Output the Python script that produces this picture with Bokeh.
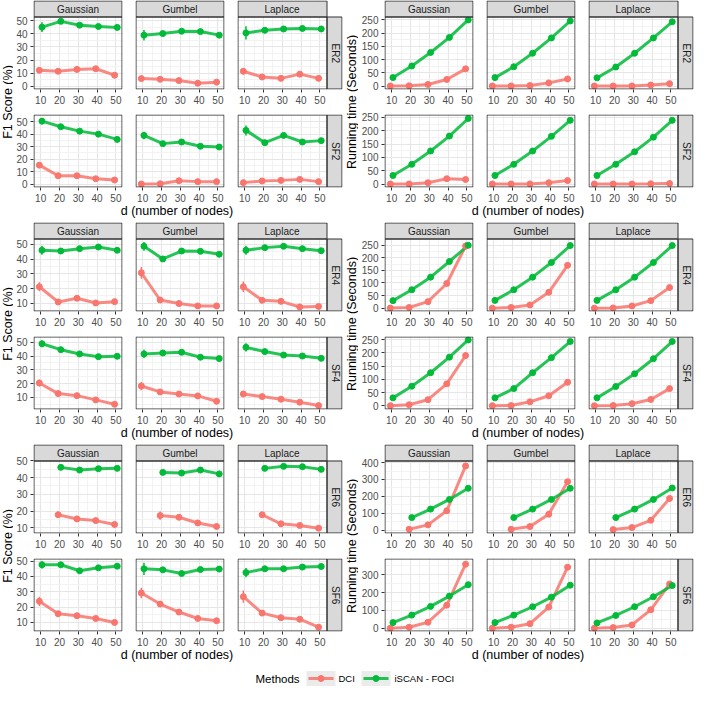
import math
import numpy as np
from bokeh.plotting import figure
from bokeh.layouts import row, column
from bokeh.models import FixedTicker, Range1d, ColumnDataSource, Grid
from bokeh.core.properties import value
from bokeh.embed import file_html
from bokeh.resources import INLINE

# ---------------- data ----------------
D = [10, 20, 30, 40, 50]
NOISES = ["Gaussian", "Gumbel", "Laplace"]
METHODS = ["DCI", "iSCAN - FOCI"]
METHOD_KEYS = ["dci", "iscan"]
COLORS = ["#F8766D", "#00BA38"]

# F1 score (%)
f1_er2_gaussian_dci = [12.2, 11.5, 12.9, 13.4, 8.5]
f1_er2_gaussian_dci_se = [1.5, 1.0, 1.0, 1.2, 1.2]
f1_er2_gaussian_iscan = [45.1, 49.5, 46.6, 45.6, 44.9]
f1_er2_gaussian_iscan_se = [3.7, 1.2, 1.2, 1.0, 1.0]
f1_er2_gumbel_dci = [5.9, 5.4, 4.4, 2.4, 3.2]
f1_er2_gumbel_dci_se = [0.8, 0.8, 0.8, 0.8, 0.8]
f1_er2_gumbel_iscan = [39.0, 40.2, 42.0, 41.7, 39.0]
f1_er2_gumbel_iscan_se = [4.0, 1.5, 1.0, 1.0, 1.0]
f1_er2_laplace_dci = [11.5, 7.1, 6.1, 9.3, 6.1]
f1_er2_laplace_dci_se = [2.5, 1.0, 1.0, 1.0, 1.0]
f1_er2_laplace_iscan = [40.7, 42.7, 43.7, 44.1, 43.7]
f1_er2_laplace_iscan_se = [5.0, 1.5, 1.2, 1.0, 1.0]

f1_sf2_gaussian_dci = [15.1, 6.6, 6.6, 4.2, 3.2]
f1_sf2_gaussian_dci_se = [2.0, 0.8, 0.8, 0.8, 0.8]
f1_sf2_gaussian_iscan = [50.3, 45.8, 42.3, 39.9, 35.7]
f1_sf2_gaussian_iscan_se = [2.5, 1.0, 1.0, 1.0, 1.0]
f1_sf2_gumbel_dci = [0.0, 0.2, 2.6, 1.9, 1.9]
f1_sf2_gumbel_dci_se = [0.5, 0.5, 0.8, 0.8, 0.8]
f1_sf2_gumbel_iscan = [38.9, 32.3, 33.6, 30.2, 29.6]
f1_sf2_gumbel_iscan_se = [3.0, 1.5, 1.0, 1.0, 1.0]
f1_sf2_laplace_dci = [1.1, 2.4, 2.9, 3.7, 1.9]
f1_sf2_laplace_dci_se = [0.8, 0.8, 0.8, 0.8, 0.8]
f1_sf2_laplace_iscan = [42.9, 33.1, 38.9, 33.6, 34.7]
f1_sf2_laplace_iscan_se = [4.0, 1.5, 1.0, 1.0, 1.0]

f1_er4_gaussian_dci = [21.2, 10.9, 13.4, 10.2, 11.1]
f1_er4_gaussian_dci_se = [3.0, 1.0, 1.0, 1.0, 1.0]
f1_er4_gaussian_iscan = [46.0, 45.5, 47.1, 48.2, 46.0]
f1_er4_gaussian_iscan_se = [3.0, 1.0, 1.0, 1.0, 1.0]
f1_er4_gumbel_dci = [30.7, 12.2, 9.8, 8.2, 8.2]
f1_er4_gumbel_dci_se = [4.0, 1.0, 1.0, 1.0, 1.0]
f1_er4_gumbel_iscan = [48.7, 40.1, 45.5, 45.3, 43.3]
f1_er4_gumbel_iscan_se = [3.0, 1.0, 1.0, 1.0, 1.0]
f1_er4_laplace_dci = [21.2, 12.0, 11.3, 7.5, 7.8]
f1_er4_laplace_dci_se = [3.5, 1.0, 1.0, 1.0, 1.0]
f1_er4_laplace_iscan = [46.0, 47.8, 48.7, 47.1, 45.7]
f1_er4_laplace_iscan_se = [3.0, 1.0, 1.0, 1.0, 1.0]

f1_sf4_gaussian_dci = [20.4, 12.7, 11.2, 8.1, 4.9]
f1_sf4_gaussian_dci_se = [2.5, 1.0, 1.0, 1.0, 1.0]
f1_sf4_gaussian_iscan = [49.0, 44.7, 41.6, 39.6, 39.9]
f1_sf4_gaussian_iscan_se = [2.5, 1.0, 1.0, 1.0, 1.0]
f1_sf4_gumbel_dci = [18.2, 13.9, 12.4, 11.0, 7.1]
f1_sf4_gumbel_dci_se = [3.0, 1.5, 1.0, 1.0, 1.0]
f1_sf4_gumbel_iscan = [41.6, 42.3, 42.8, 39.2, 38.2]
f1_sf4_gumbel_iscan_se = [3.0, 1.0, 1.0, 1.0, 1.0]
f1_sf4_laplace_dci = [12.4, 10.5, 8.6, 6.4, 4.0]
f1_sf4_laplace_dci_se = [2.0, 1.0, 1.0, 1.0, 1.0]
f1_sf4_laplace_iscan = [46.4, 43.3, 40.8, 40.1, 38.4]
f1_sf4_laplace_iscan_se = [3.0, 1.0, 1.0, 1.0, 1.0]

f1_er6_gaussian_dci = [None, 17.8, 15.3, 14.3, 12.0]
f1_er6_gaussian_dci_se = [0.0, 2.0, 1.0, 1.0, 1.0]
f1_er6_gaussian_iscan = [None, 46.1, 44.5, 45.3, 45.5]
f1_er6_gaussian_iscan_se = [0.0, 1.0, 1.0, 1.0, 1.0]
f1_er6_gumbel_dci = [None, 17.3, 16.3, 12.9, 10.8]
f1_er6_gumbel_dci_se = [0.0, 2.5, 1.0, 1.0, 1.0]
f1_er6_gumbel_iscan = [None, 43.1, 42.7, 44.5, 42.2]
f1_er6_gumbel_iscan_se = [0.0, 1.0, 1.0, 1.0, 1.0]
f1_er6_laplace_dci = [None, 17.8, 12.4, 11.4, 9.8]
f1_er6_laplace_dci_se = [0.0, 1.5, 1.0, 1.0, 1.0]
f1_er6_laplace_iscan = [None, 45.5, 46.7, 46.5, 44.9]
f1_er6_laplace_iscan_se = [0.0, 1.0, 1.0, 1.0, 1.0]

f1_sf6_gaussian_dci = [23.8, 15.7, 14.4, 12.6, 10.0]
f1_sf6_gaussian_dci_se = [3.0, 1.0, 1.0, 1.0, 1.0]
f1_sf6_gaussian_iscan = [47.6, 47.6, 43.7, 45.6, 46.7]
f1_sf6_gaussian_iscan_se = [2.5, 1.0, 1.0, 1.0, 1.0]
f1_sf6_gumbel_dci = [29.2, 22.0, 16.8, 12.6, 11.1]
f1_sf6_gumbel_dci_se = [3.5, 1.0, 1.0, 1.0, 1.0]
f1_sf6_gumbel_iscan = [45.0, 44.3, 41.9, 44.5, 44.8]
f1_sf6_gumbel_iscan_se = [4.0, 1.0, 1.0, 1.0, 1.0]
f1_sf6_laplace_dci = [26.8, 16.1, 13.1, 12.1, 6.9]
f1_sf6_laplace_dci_se = [4.0, 1.0, 1.0, 1.0, 1.0]
f1_sf6_laplace_iscan = [42.5, 45.0, 45.0, 46.1, 46.5]
f1_sf6_laplace_iscan_se = [3.0, 1.0, 1.0, 1.0, 1.0]

# Running time (seconds)
rt_er2_gaussian_dci = [0.5, 1, 6, 25, 65]
rt_er2_gaussian_dci_se = [0, 0, 1, 3, 8]
rt_er2_gaussian_iscan = [32, 76, 127, 184, 250]
rt_er2_gaussian_iscan_se = [1, 2, 2, 2, 3]
rt_er2_gumbel_dci = [0.3, 0.5, 2, 12, 27]
rt_er2_gumbel_dci_se = [0, 0, 0.5, 2, 3]
rt_er2_gumbel_iscan = [32, 73, 124, 182, 246]
rt_er2_gumbel_iscan_se = [1, 2, 2, 2, 3]
rt_er2_laplace_dci = [0.2, 0.3, 0.5, 4, 9]
rt_er2_laplace_dci_se = [0, 0, 0.5, 1, 2]
rt_er2_laplace_iscan = [31, 72, 124, 182, 243]
rt_er2_laplace_iscan_se = [1, 2, 2, 2, 3]

rt_sf2_gaussian_dci = [0.3, 0.5, 5, 20, 17]
rt_sf2_gaussian_dci_se = [0, 0, 1, 3, 2]
rt_sf2_gaussian_iscan = [32, 74, 124, 180, 246]
rt_sf2_gaussian_iscan_se = [1, 2, 2, 2, 3]
rt_sf2_gumbel_dci = [0.2, 0.3, 0.5, 5, 13]
rt_sf2_gumbel_dci_se = [0, 0, 0.5, 1, 2]
rt_sf2_gumbel_iscan = [32, 74, 124, 179, 239]
rt_sf2_gumbel_iscan_se = [1, 2, 2, 2, 3]
rt_sf2_laplace_dci = [0.1, 0.2, 0.3, 1, 2]
rt_sf2_laplace_dci_se = [0, 0, 0, 0.5, 0.5]
rt_sf2_laplace_iscan = [32, 74, 121, 176, 239]
rt_sf2_laplace_iscan_se = [1, 2, 2, 2, 3]

rt_er4_gaussian_dci = [0.5, 3, 26, 98, 246]
rt_er4_gaussian_dci_se = [0, 0.5, 2, 5, 15]
rt_er4_gaussian_iscan = [30, 73, 123, 185, 249]
rt_er4_gaussian_iscan_se = [1, 2, 2, 2, 3]
rt_er4_gumbel_dci = [0.3, 3, 13, 63, 170]
rt_er4_gumbel_dci_se = [0, 0.5, 2, 4, 8]
rt_er4_gumbel_iscan = [31, 73, 123, 181, 248]
rt_er4_gumbel_iscan_se = [1, 2, 2, 2, 3]
rt_er4_laplace_dci = [0.2, 1, 9, 30, 82]
rt_er4_laplace_dci_se = [0, 0.5, 1, 2, 4]
rt_er4_laplace_iscan = [31, 73, 123, 181, 248]
rt_er4_laplace_iscan_se = [1, 2, 2, 2, 3]

rt_sf4_gaussian_dci = [0.5, 4, 23, 83, 190]
rt_sf4_gaussian_dci_se = [0, 0.5, 2, 4, 12]
rt_sf4_gaussian_iscan = [30, 74, 125, 184, 249]
rt_sf4_gaussian_iscan_se = [1, 2, 2, 2, 3]
rt_sf4_gumbel_dci = [0.3, 1, 15, 38, 89]
rt_sf4_gumbel_dci_se = [0, 0.5, 1, 2, 4]
rt_sf4_gumbel_iscan = [30, 65, 125, 182, 243]
rt_sf4_gumbel_iscan_se = [1, 2, 2, 2, 3]
rt_sf4_laplace_dci = [0.2, 1, 8, 24, 65]
rt_sf4_laplace_dci_se = [0, 0.5, 1, 2, 3]
rt_sf4_laplace_iscan = [30, 73, 121, 178, 243]
rt_sf4_laplace_iscan_se = [1, 2, 2, 2, 3]

rt_er6_gaussian_dci = [None, 6, 32, 115, 380]
rt_er6_gaussian_dci_se = [0, 1, 3, 6, 10]
rt_er6_gaussian_iscan = [None, 75, 125, 182, 248]
rt_er6_gaussian_iscan_se = [0, 2, 2, 2, 3]
rt_er6_gumbel_dci = [None, 6, 22, 95, 287]
rt_er6_gumbel_dci_se = [0, 1, 2, 5, 8]
rt_er6_gumbel_iscan = [None, 75, 125, 182, 248]
rt_er6_gumbel_iscan_se = [0, 2, 2, 2, 3]
rt_er6_laplace_dci = [None, 4, 16, 59, 188]
rt_er6_laplace_dci_se = [0, 1, 2, 3, 6]
rt_er6_laplace_iscan = [None, 75, 125, 182, 250]
rt_er6_laplace_iscan_se = [0, 2, 2, 2, 3]

rt_sf6_gaussian_dci = [0.5, 6, 34, 130, 360]
rt_sf6_gaussian_dci_se = [0, 1, 3, 6, 10]
rt_sf6_gaussian_iscan = [32, 74, 123, 181, 245]
rt_sf6_gaussian_iscan_se = [1, 2, 2, 2, 3]
rt_sf6_gumbel_dci = [0.3, 6, 26, 119, 343]
rt_sf6_gumbel_dci_se = [0, 1, 2, 5, 8]
rt_sf6_gumbel_iscan = [32, 74, 121, 175, 242]
rt_sf6_gumbel_iscan_se = [1, 2, 2, 2, 3]
rt_sf6_laplace_dci = [0.2, 4, 19, 104, 249]
rt_sf6_laplace_dci_se = [0, 1, 2, 5, 8]
rt_sf6_laplace_iscan = [30, 72, 121, 177, 240]
rt_sf6_laplace_iscan_se = [1, 2, 2, 2, 3]

# axis limits / ticks
Y_RANGES = {
    ("f1", "er2"): (-2.4, 53.2), ("f1", "sf2"): (-2.8, 55.6),
    ("f1", "er4"): (4.4, 54.0), ("f1", "sf4"): (1.1, 54.3),
    ("f1", "er6"): (6.6, 50.2), ("f1", "sf6"): (4.1, 51.7),
    ("rt", "er2"): (-13, 263), ("rt", "sf2"): (-13, 261),
    ("rt", "er4"): (-13, 276), ("rt", "sf4"): (-14, 262),
    ("rt", "er6"): (-19, 412), ("rt", "sf6"): (-18, 392),
}
Y_TICKS = {
    ("f1", "er2"): [0, 10, 20, 30, 40, 50], ("f1", "sf2"): [0, 10, 20, 30, 40, 50],
    ("f1", "er4"): [10, 20, 30, 40, 50], ("f1", "sf4"): [10, 20, 30, 40, 50],
    ("f1", "er6"): [10, 20, 30, 40, 50], ("f1", "sf6"): [10, 20, 30, 40, 50],
    ("rt", "er2"): [0, 50, 100, 150, 200, 250], ("rt", "sf2"): [0, 50, 100, 150, 200, 250],
    ("rt", "er4"): [0, 50, 100, 150, 200, 250], ("rt", "sf4"): [0, 50, 100, 150, 200, 250],
    ("rt", "er6"): [0, 100, 200, 300, 400], ("rt", "sf6"): [0, 100, 200, 300],
}
X_TICKS = [10, 20, 30, 40, 50]
X_LIMITS = (6.2, 53.5)
DODGE = [-0.7, 0.7]
Y_TITLES = {"f1": "F1 Score (%)", "rt": "Running time (Seconds)"}
X_TITLE = "d (number of nodes)"
LEGEND_TITLE = "Methods"
GRAPH_ROWS = [("er2", "sf2"), ("er4", "sf4"), ("er6", "sf6")]

# ---------------- style / geometry ----------------
FONT = "Liberation Sans"
FW, FH, SW = 89, 73, 16
LEFT_FIRST = {"f1": 17, "rt": 23}
YTITLE_W = {"f1": 13, "rt": 14}
ROW1_H = 0 + FH + SW + 19
ROW2_H = 6 + FH + 17
XTITLE_H = 18
BLOCK_H = ROW1_H + ROW2_H + XTITLE_H
STRIP_FILL = "#d9d9d9"
BORDER = "#333333"


def minor_between(ticks):
    step = ticks[1] - ticks[0]
    return [ticks[0] - step / 2] + [t + step / 2 for t in ticks]


def series(metric, graph, noise, mk):
    name = f"{metric}_{graph}_{noise.lower()}_{mk}"
    vals = [np.nan if v is None else float(v) for v in globals()[name]]
    se = [float(s) for s in globals()[name + "_se"]]
    return vals, se


def make_panel(metric, graph, ci, top):
    noise = NOISES[ci]
    rs = ci == 2
    ts = top
    y0, y1 = Y_RANGES[(metric, graph)]
    x0, x1 = X_LIMITS
    xpp = (x1 - x0) / FW
    ypp = (y1 - y0) / FH
    fwt = FW + (SW if rs else 0)
    fht = FH + (SW if ts else 0)
    xe = x0 + fwt * xpp
    ye = y0 + fht * ypp

    def px(v):
        return x0 + v * xpp

    def py(v):
        return ye - v * ypp

    p = figure(frame_width=fwt, frame_height=fht,
               x_range=Range1d(x0, xe), y_range=Range1d(y0, ye),
               output_backend="svg", toolbar_location=None, title=None,
               y_axis_location="left" if ci == 0 else None,
               min_border_left=LEFT_FIRST[metric] if ci == 0 else 7,
               min_border_right=2 if rs else 6,
               min_border_top=0 if top else 6,
               min_border_bottom=19 if top else 17,
               outline_line_color=None, border_fill_color="white",
               background_fill_color="white")

    yt = Y_TICKS[(metric, graph)]
    yticker = FixedTicker(ticks=yt, minor_ticks=minor_between(yt))
    xticker = FixedTicker(ticks=X_TICKS, minor_ticks=minor_between(X_TICKS))

    for ax in p.xaxis:
        ax.ticker = xticker
    for ax in p.yaxis:
        ax.ticker = yticker
    for ax in list(p.xaxis) + list(p.yaxis):
        ax.axis_line_color = None
        ax.major_tick_line_color = BORDER
        ax.major_tick_in = 0
        ax.major_tick_out = 3
        ax.minor_tick_line_color = None
        ax.major_label_standoff = 2
        ax.major_label_text_font = FONT
        ax.major_label_text_font_size = "10px"
        ax.major_label_text_color = "#4d4d4d"

    xg = list(p.xgrid)
    if not xg:
        g = Grid(dimension=0)
        p.add_layout(g, "center")
        xg = [g]
    yg = list(p.ygrid)
    if not yg:
        g = Grid(dimension=1)
        p.add_layout(g, "center")
        yg = [g]
    for g in xg:
        g.ticker = xticker
    for g in yg:
        g.ticker = yticker
    for g in xg + yg:
        g.grid_line_color = "#e6e6e6"
        g.grid_line_width = 1.1
        g.minor_grid_line_color = "#f0f0f0"
        g.minor_grid_line_width = 0.8

    sources = []
    for mi, mk in enumerate(METHOD_KEYS):
        vals, se = series(metric, graph, noise, mk)
        xs = [d + DODGE[mi] for d in D]
        sources.append(ColumnDataSource(dict(
            x=xs, y=vals,
            lo=[v - s for v, s in zip(vals, se)],
            hi=[v + s for v, s in zip(vals, se)])))
    for mi, src in enumerate(sources):
        p.line("x", "y", source=src, line_color=COLORS[mi], line_width=3,
               line_alpha=0.85)
    for mi, src in enumerate(sources):
        p.segment(x0="x", y0="lo", x1="x", y1="hi", source=src,
                  line_color=COLORS[mi], line_width=1.5)
        p.scatter("x", "y", source=src, size=6, fill_color=COLORS[mi],
                  line_color=COLORS[mi])

    # facet strips
    if ts and rs:
        p.quad(left=[px(FW)], right=[xe], bottom=[py(SW)], top=[ye],
               fill_color="white", line_color=None)
    if ts:
        p.quad(left=[px(0.5)], right=[px(FW + (0.5 if rs else -0.5))],
               top=[py(0.5)], bottom=[py(SW + 0.5)],
               fill_color=STRIP_FILL, line_color=BORDER, line_width=1)
        p.text(x=[px(FW / 2)], y=[py(SW / 2 + 0.5)], text=[noise],
               text_font=value(FONT), text_font_size=value("10px"),
               text_color="#1a1a1a", text_align="center",
               text_baseline="middle")
    if rs:
        st = SW + 0.5 if ts else 0.5
        p.quad(left=[px(FW + 0.5)], right=[px(fwt - 0.5)],
               top=[py(st)], bottom=[py(fht - 0.5)],
               fill_color=STRIP_FILL, line_color=BORDER, line_width=1)
        p.text(x=[px(FW + SW / 2 + 0.5)], y=[py((st + fht) / 2)],
               text=[graph.upper()], angle=-math.pi / 2,
               text_font=value(FONT), text_font_size=value("10px"),
               text_color="#1a1a1a", text_align="center",
               text_baseline="middle")
    # panel border
    p.quad(left=[px(0.5)], right=[px(FW + (0.5 if rs else -0.5))],
           top=[py(SW + 0.5 if ts else 0.5)], bottom=[py(fht - 0.5)],
           fill_color=None, line_color=BORDER, line_width=1)
    return p


def blank_fig(w, h):
    p = figure(width=w, height=h, x_range=Range1d(0, w), y_range=Range1d(0, h),
               output_backend="svg", toolbar_location=None, title=None,
               x_axis_type=None, y_axis_type=None, min_border=0,
               outline_line_color=None, border_fill_color="white",
               background_fill_color="white")
    return p


def make_block(metric, graphs):
    rows = []
    widths = []
    for r, g in enumerate(graphs):
        figs = [make_panel(metric, g, c, r == 0) for c in range(3)]
        rows.append(row(*figs, spacing=0))
    w1 = LEFT_FIRST[metric] + FW + 6
    w2 = 7 + FW + 6
    w3 = 7 + FW + SW + 2
    W = w1 + w2 + w3
    xt = blank_fig(W, XTITLE_H)
    cx = (LEFT_FIRST[metric] + (W - 2 - SW)) / 2
    xt.text(x=[cx], y=[XTITLE_H - 6], text=[X_TITLE], text_font=value(FONT),
            text_font_size=value("12.5px"), text_color="black",
            text_align="center", text_baseline="middle")
    yw = YTITLE_W[metric]
    yt = blank_fig(yw, BLOCK_H)
    cy = BLOCK_H - (SW + (ROW1_H + 6 + FH)) / 2
    yt.text(x=[yw / 2 + 0.5], y=[cy], text=[Y_TITLES[metric]], angle=math.pi / 2,
            text_font=value(FONT), text_font_size=value("12.5px"),
            text_color="black", text_align="center", text_baseline="middle")
    return row(yt, column(rows[0], rows[1], xt, spacing=0), spacing=0)


def make_legend(w, h):
    p = blank_fig(w, h)
    cy = h / 2
    p.text(x=[255], y=[cy], text=[LEGEND_TITLE], text_font=value(FONT),
           text_font_size=value("11.5px"), text_color="black",
           text_align="left", text_baseline="middle")
    key_left = [306, 361]
    label_x = [338, 394]
    for mi, m in enumerate(METHODS):
        kl = key_left[mi]
        p.quad(left=[kl], right=[kl + 29], bottom=[cy - 7.5], top=[cy + 7.5],
               fill_color="#ebebeb", line_color=None)
        p.segment(x0=[kl + 2], y0=[cy], x1=[kl + 27], y1=[cy],
                  line_color=COLORS[mi], line_width=3, line_alpha=0.85)
        p.scatter(x=[kl + 14.5], y=[cy], size=6, fill_color=COLORS[mi],
                  line_color=COLORS[mi])
        p.text(x=[label_x[mi]], y=[cy], text=[m], text_font=value(FONT),
               text_font_size=value("9.5px"), text_color="black",
               text_align="left", text_baseline="middle")
    return p


block_rows = []
for graphs in GRAPH_ROWS:
    block_rows.append(row(make_block("f1", graphs), make_block("rt", graphs),
                          spacing=0))

total_w = (YTITLE_W["f1"] + LEFT_FIRST["f1"] + YTITLE_W["rt"] + LEFT_FIRST["rt"]
           + 2 * (FW + 6 + 7 + FW + 6 + 7 + FW + SW + 2))
legend = make_legend(total_w, 690 - 3 * BLOCK_H)

layout = column(*block_rows, legend, spacing=0)

open("out.html", "w").write(file_html(layout, INLINE))
